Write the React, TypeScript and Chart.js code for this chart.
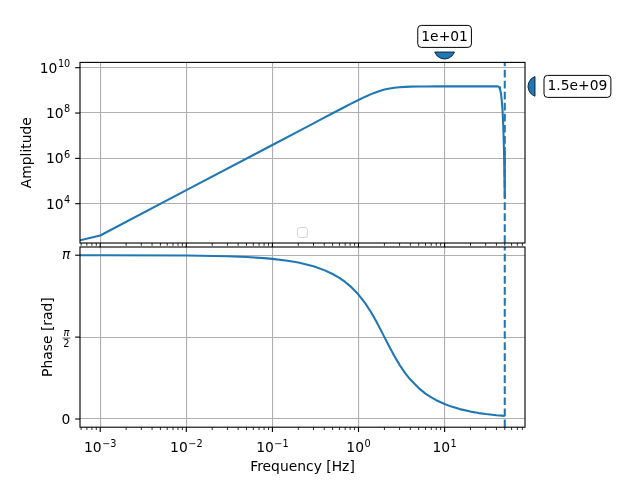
import React, { useEffect, useRef } from "react";
import { Chart, registerables } from "chart.js";

Chart.register(...registerables);

// ---------------- data ----------------
const AMP_FREQ_HZ = [0.000582, 0.001, 0.01, 0.1, 0.2, 0.3, 0.4, 0.5, 0.6, 0.7, 0.8, 1.0, 1.2, 1.4, 1.6, 1.8, 2.0, 2.3, 2.6, 3.0, 3.5, 4, 5, 6, 8, 10, 20, 40, 41, 42, 43, 44, 45, 46, 47, 48, 49, 50];
const AMPLITUDE = [243, 395, 39500, 3905000, 15620000, 35130000, 62420000, 97410000, 139960000, 189790000, 246500000, 377900000, 526500000, 681700000, 831800000, 967100000, 1081900000, 1213700000, 1304100000, 1379600000, 1431300000, 1458600000, 1482600000, 1491500000, 1497300000, 1498900000, 1499900000, 1500000000, 1500000000, 1480000000, 1380000000, 1150000000, 800000000, 400000000, 150000000, 30000000, 2000000, 18000];

const PHASE_FREQ_HZ = [0.000582, 0.001, 0.01, 0.03, 0.05, 0.08, 0.1, 0.15, 0.2, 0.3, 0.4, 0.5, 0.6, 0.7, 0.8, 1.0, 1.2, 1.4, 1.6, 1.8, 2.0, 2.3, 2.6, 3.0, 3.5, 4, 5, 6, 7, 8, 10, 12, 15, 20, 25, 30, 40, 50];
const PHASE_RAD = [3.1412, 3.1409, 3.1345, 3.1204, 3.1062, 3.085, 3.0708, 3.0353, 2.9997, 2.9279, 2.855, 2.7811, 2.7055, 2.6283, 2.5488, 2.3858, 2.217, 2.0463, 1.8787, 1.719, 1.5708, 1.375, 1.2117, 1.0384, 0.876, 0.7558, 0.5928, 0.4875, 0.4145, 0.3605, 0.2866, 0.2379, 0.1897, 0.1419, 0.1134, 0.0944, 0.0708, 0.06];

const NYQUIST_HZ = 50;

const X_MIN = 5.822e-4;
const X_MAX = 85.89;
const AMP_MIN = 184.5;
const AMP_MAX = 1.714e10;
const PHASE_MIN = -0.05 * Math.PI;
const PHASE_MAX = 1.05 * Math.PI;

const X_TICK_EXPONENTS = [-3, -2, -1, 0, 1];
const X_MINOR_DECADES = [-4, -3, -2, -1, 0, 1];
const AMP_TICK_EXPONENTS = [4, 6, 8, 10];
const PHASE_TICK_VALUES = [0, Math.PI / 2, Math.PI];
const PHASE_TICK_LABELS = ["0", "π/2", "π"];

const X_TITLE = "Frequency [Hz]";
const AMP_TITLE = "Amplitude";
const PHASE_TITLE = "Phase [rad]";

const ANNOT_FREQ = 10;
const ANNOT_FREQ_LABEL = "1e+01";
const ANNOT_AMP = 1.5e9;
const ANNOT_AMP_LABEL = "1.5e+09";

// ---------------- style ----------------
const PX = 100 / 72;
const FAMILY = '"DejaVu Sans", Verdana, sans-serif';
const FS = 10 * PX;
const MAJOR_LEN = 3.5 * PX;
const MINOR_LEN = 2 * PX;
const MAJOR_W = 0.8 * PX;
const MINOR_W = 0.6 * PX;
const PAD = 3.5 * PX;
const BLUE = "#1f77b4";
const GRID = "#b0b0b0";

function xTicks() {
  const out: { value: number; major: boolean }[] = [];
  for (const e of X_MINOR_DECADES) {
    for (let k = 1; k <= 9; k++) {
      const v = k * Math.pow(10, e);
      if (v >= X_MIN && v <= X_MAX) out.push({ value: v, major: k === 1 });
    }
  }
  return out;
}

function gridColor(c: any) {
  return c.tick && c.tick.major ? GRID : "rgba(0,0,0,0)";
}

function xScale() {
  return {
    type: "logarithmic",
    min: X_MIN,
    max: X_MAX,
    afterBuildTicks: (s: any) => {
      s.ticks = xTicks();
    },
    afterFit: (s: any) => {
      s.height = 0;
    },
    ticks: { display: false },
    grid: { drawTicks: false, color: gridColor, lineWidth: 0.8 * PX },
    border: { display: false },
  };
}

function drawSpines(ctx: CanvasRenderingContext2D, a: any) {
  ctx.strokeStyle = "#000";
  ctx.lineWidth = 0.8 * PX;
  ctx.strokeRect(a.left, a.top, a.right - a.left, a.bottom - a.top);
}

function drawXTickMarks(ctx: CanvasRenderingContext2D, xs: any, y: number) {
  ctx.strokeStyle = "#000";
  for (const t of xTicks()) {
    const px = xs.getPixelForValue(t.value);
    ctx.lineWidth = t.major ? MAJOR_W : MINOR_W;
    ctx.beginPath();
    ctx.moveTo(px, y);
    ctx.lineTo(px, y + (t.major ? MAJOR_LEN : MINOR_LEN));
    ctx.stroke();
  }
}

function drawYTick(ctx: CanvasRenderingContext2D, x: number, py: number) {
  ctx.strokeStyle = "#000";
  ctx.lineWidth = MAJOR_W;
  ctx.beginPath();
  ctx.moveTo(x, py);
  ctx.lineTo(x - MAJOR_LEN, py);
  ctx.stroke();
}

function drawPow(ctx: CanvasRenderingContext2D, exp: number, x: number, baseline: number, align: "center" | "right", supShift: number) {
  const main = "10";
  const sup = exp < 0 ? "\u2212" + Math.abs(exp) : String(exp);
  ctx.font = `${FS}px ${FAMILY}`;
  const w1 = ctx.measureText(main).width;
  ctx.font = `${FS * 0.7}px ${FAMILY}`;
  const w2 = ctx.measureText(sup).width;
  const total = w1 + w2 + 0.5;
  const x0 = align === "center" ? x - total / 2 : x - total;
  ctx.fillStyle = "#000";
  ctx.textAlign = "left";
  ctx.textBaseline = "alphabetic";
  ctx.font = `${FS}px ${FAMILY}`;
  ctx.fillText(main, x0, baseline);
  ctx.font = `${FS * 0.7}px ${FAMILY}`;
  ctx.fillText(sup, x0 + w1 + 0.5, baseline - supShift);
}

function drawRotatedTitle(ctx: CanvasRenderingContext2D, text: string, baselineX: number, cy: number) {
  ctx.save();
  ctx.translate(baselineX, cy);
  ctx.rotate(-Math.PI / 2);
  ctx.font = `${FS}px ${FAMILY}`;
  ctx.fillStyle = "#000";
  ctx.textAlign = "center";
  ctx.textBaseline = "alphabetic";
  ctx.fillText(text, 0, 0);
  ctx.restore();
}

function roundRectPath(ctx: CanvasRenderingContext2D, x: number, y: number, w: number, h: number, r: number) {
  ctx.beginPath();
  ctx.moveTo(x + r, y);
  ctx.lineTo(x + w - r, y);
  ctx.arcTo(x + w, y, x + w, y + r, r);
  ctx.lineTo(x + w, y + h - r);
  ctx.arcTo(x + w, y + h, x + w - r, y + h, r);
  ctx.lineTo(x + r, y + h);
  ctx.arcTo(x, y + h, x, y + h - r, r);
  ctx.lineTo(x, y + r);
  ctx.arcTo(x, y, x + r, y, r);
  ctx.closePath();
}

function drawLabelBox(ctx: CanvasRenderingContext2D, text: string, left: number, cy: number) {
  ctx.font = `${FS}px ${FAMILY}`;
  const w = ctx.measureText(text).width + 7;
  const h = 22;
  roundRectPath(ctx, left, cy - h / 2, w, h, 3.5);
  ctx.fillStyle = "#fff";
  ctx.fill();
  ctx.strokeStyle = "#000";
  ctx.lineWidth = 1;
  ctx.stroke();
  ctx.fillStyle = "#000";
  ctx.textAlign = "left";
  ctx.textBaseline = "middle";
  ctx.fillText(text, left + 3.5, cy + 0.5);
}

function drawSegmentMarker(ctx: CanvasRenderingContext2D, cx: number, cy: number, dir: "down" | "left") {
  const r = 10.5;
  const d = 3.5;
  const phi = Math.acos(d / r);
  ctx.beginPath();
  if (dir === "down") {
    ctx.arc(cx, cy - d, r, Math.PI / 2 - phi, Math.PI / 2 + phi, false);
  } else {
    ctx.arc(cx + d, cy, r, Math.PI - phi, Math.PI + phi, false);
  }
  ctx.closePath();
  ctx.fillStyle = BLUE;
  ctx.fill();
  ctx.strokeStyle = "rgba(10,30,50,0.9)";
  ctx.lineWidth = 1;
  ctx.stroke();
}

const ampDecor = {
  id: "ampDecor",
  afterDraw(chart: any) {
    const { ctx, chartArea: a, scales } = chart;
    const xs = scales.x;
    const ys = scales.y;
    ctx.save();
    drawSpines(ctx, a);
    drawXTickMarks(ctx, xs, a.bottom);
    const labelX = a.left - MAJOR_LEN - PAD;
    for (const e of AMP_TICK_EXPONENTS) {
      const py = ys.getPixelForValue(Math.pow(10, e));
      drawYTick(ctx, a.left, py);
      drawPow(ctx, e, labelX, py + 5, "right", 5.6);
    }
    drawRotatedTitle(ctx, AMP_TITLE, 30.5, (a.top + a.bottom) / 2);

    // empty legend frame (lower center)
    const lx = (a.left + a.right) / 2;
    roundRectPath(ctx, lx - 5, a.bottom - 15.5, 10, 10, 2.5);
    ctx.fillStyle = "rgba(255,255,255,0.8)";
    ctx.fill();
    ctx.strokeStyle = "rgba(204,204,204,0.8)";
    ctx.lineWidth = 1;
    ctx.stroke();

    // annotation at x = ANNOT_FREQ
    const ax = xs.getPixelForValue(ANNOT_FREQ);
    drawSegmentMarker(ctx, ax, a.top - 10.4, "down");
    ctx.font = `${FS}px ${FAMILY}`;
    const tw = ctx.measureText(ANNOT_FREQ_LABEL).width + 7;
    drawLabelBox(ctx, ANNOT_FREQ_LABEL, ax - tw / 2, a.top - 26);

    // annotation at y = ANNOT_AMP
    const ay = ys.getPixelForValue(ANNOT_AMP);
    drawSegmentMarker(ctx, a.right + 10, ay, "left");
    drawLabelBox(ctx, ANNOT_AMP_LABEL, a.right + 19, ay);
    ctx.restore();
  },
};

const phaseDecor = {
  id: "phaseDecor",
  afterDraw(chart: any) {
    const { ctx, chartArea: a, scales } = chart;
    const xs = scales.x;
    const ys = scales.y;
    ctx.save();
    drawSpines(ctx, a);
    drawXTickMarks(ctx, xs, a.bottom);
    for (const e of X_TICK_EXPONENTS) {
      const px = xs.getPixelForValue(Math.pow(10, e));
      drawPow(ctx, e, px, a.bottom + 25, "center", 5.6);
    }
    const labelX = a.left - MAJOR_LEN - PAD;
    PHASE_TICK_VALUES.forEach((v, i) => {
      const py = ys.getPixelForValue(v);
      drawYTick(ctx, a.left, py);
      const lab = PHASE_TICK_LABELS[i];
      ctx.fillStyle = "#000";
      ctx.textBaseline = "alphabetic";
      if (lab.includes("/")) {
        const [num, den] = lab.split("/");
        const small = FS * 0.7;
        ctx.font = `italic ${small}px ${FAMILY}`;
        const wn = ctx.measureText(num).width;
        ctx.font = `${small}px ${FAMILY}`;
        const wd = ctx.measureText(den).width;
        const w = Math.max(wn, wd) + 1.5;
        const cx = labelX - w / 2;
        const barY = py + 1;
        ctx.textAlign = "center";
        ctx.font = `italic ${small}px ${FAMILY}`;
        ctx.fillText(num, cx, barY - 1.8);
        ctx.font = `${small}px ${FAMILY}`;
        ctx.fillText(den, cx, barY + 8.6);
        ctx.strokeStyle = "#000";
        ctx.lineWidth = 0.7;
        ctx.beginPath();
        ctx.moveTo(labelX - w, barY);
        ctx.lineTo(labelX, barY);
        ctx.stroke();
      } else if (lab === "π") {
        ctx.textAlign = "right";
        ctx.font = `italic ${FS}px ${FAMILY}`;
        ctx.fillText(lab, labelX, py + 4);
      } else {
        ctx.textAlign = "right";
        ctx.font = `${FS}px ${FAMILY}`;
        ctx.fillText(lab, labelX, py + 5);
      }
    });
    drawRotatedTitle(ctx, PHASE_TITLE, 51.5, (a.top + a.bottom) / 2);
    ctx.font = `${FS}px ${FAMILY}`;
    ctx.fillStyle = "#000";
    ctx.textAlign = "center";
    ctx.textBaseline = "alphabetic";
    ctx.fillText(X_TITLE, (a.left + a.right) / 2, a.bottom + 44);
    ctx.restore();
  },
};

function lineDataset(xs: number[], ys: number[]) {
  return {
    data: xs.map((x, i) => ({ x, y: ys[i] })),
    borderColor: BLUE,
    borderWidth: 1.5 * PX,
    pointRadius: 0,
    tension: 0,
    borderJoinStyle: "round",
    fill: false,
    clip: 0,
  };
}

function nyquistDataset(lo: number, hi: number) {
  return {
    data: [
      { x: NYQUIST_HZ, y: lo },
      { x: NYQUIST_HZ, y: hi },
    ],
    borderColor: BLUE,
    borderWidth: 1.5 * PX,
    borderDash: [3.7 * 1.5 * PX, 1.6 * 1.5 * PX],
    pointRadius: 0,
    fill: false,
    clip: 0,
  };
}

const commonOptions = {
  responsive: false,
  animation: false,
  events: [],
  plugins: { legend: { display: false }, tooltip: { enabled: false } },
};

export default function App() {
  const topRef = useRef<HTMLCanvasElement>(null);
  const botRef = useRef<HTMLCanvasElement>(null);

  useEffect(() => {
    const top = new Chart(topRef.current as HTMLCanvasElement, {
      type: "line",
      data: {
        datasets: [nyquistDataset(AMP_MIN, AMP_MAX), lineDataset(AMP_FREQ_HZ, AMPLITUDE)] as any,
      },
      options: {
        ...commonOptions,
        layout: { padding: { left: 80, top: 62.4, right: 115, bottom: 7 } },
        scales: {
          x: xScale() as any,
          y: {
            type: "logarithmic",
            min: AMP_MIN,
            max: AMP_MAX,
            afterBuildTicks: (s: any) => {
              s.ticks = AMP_TICK_EXPONENTS.map((e) => ({ value: Math.pow(10, e), major: true }));
            },
            afterFit: (s: any) => {
              s.width = 0;
            },
            ticks: { display: false },
            grid: { drawTicks: false, color: gridColor, lineWidth: 0.8 * PX },
            border: { display: false },
          } as any,
        },
      } as any,
      plugins: [ampDecor],
    });

    const bot = new Chart(botRef.current as HTMLCanvasElement, {
      type: "line",
      data: {
        datasets: [nyquistDataset(PHASE_MIN, PHASE_MAX), lineDataset(PHASE_FREQ_HZ, PHASE_RAD)] as any,
      },
      options: {
        ...commonOptions,
        layout: { padding: { left: 80, top: 7, right: 115, bottom: 52.8 } },
        scales: {
          x: xScale() as any,
          y: {
            type: "linear",
            min: PHASE_MIN,
            max: PHASE_MAX,
            afterBuildTicks: (s: any) => {
              s.ticks = PHASE_TICK_VALUES.map((v) => ({ value: v, major: true }));
            },
            afterFit: (s: any) => {
              s.width = 0;
            },
            ticks: { display: false },
            grid: { drawTicks: false, color: gridColor, lineWidth: 0.8 * PX },
            border: { display: false },
          } as any,
        },
      } as any,
      plugins: [phaseDecor],
    });

    return () => {
      top.destroy();
      bot.destroy();
    };
  }, []);

  return (
    <div style={{ position: "absolute", left: 0, top: 0, width: 640, height: 480, background: "#fff" }}>
      <canvas ref={topRef} width={640} height={250} style={{ position: "absolute", left: 0, top: 0 }} />
      <canvas ref={botRef} width={640} height={240} style={{ position: "absolute", left: 0, top: 240 }} />
    </div>
  );
}
